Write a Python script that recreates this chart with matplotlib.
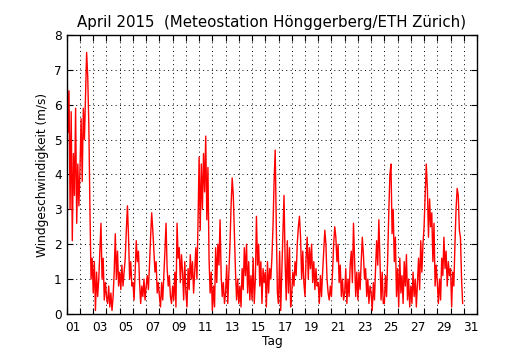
import numpy as np
import matplotlib.pyplot as plt

tage = {
    1: [7.9, 5.2, 6.4, 3.0, 5.8, 2.1, 4.6, 3.4, 5.9, 2.6, 4.3, 3.1],
    2: [4.2, 5.6, 3.8, 5.9, 5.0, 6.3, 7.5, 6.8, 5.4, 3.0, 1.0, 1.6],
    3: [0.6, 1.5, 0.1, 1.2, 0.5, 1.0, 1.8, 2.6, 1.0, 1.6, 0.4, 0.9],
    4: [0.5, 0.3, 0.8, 0.2, 0.6, 0.1, 0.5, 1.2, 2.3, 1.0, 1.8, 0.8],
    5: [1.2, 0.7, 1.4, 0.8, 1.2, 1.6, 2.4, 3.1, 2.2, 1.0, 1.5, 0.8],
    6: [0.9, 0.4, 1.2, 2.1, 1.5, 1.8, 0.9, 0.3, 0.8, 0.5, 1.0, 0.4],
    7: [0.8, 1.1, 0.7, 1.4, 2.2, 2.9, 2.4, 1.8, 1.2, 1.5, 0.6, 0.9],
    8: [0.5, 0.2, 0.9, 0.4, 1.1, 1.8, 2.6, 1.3, 0.8, 1.1, 0.5, 0.3],
    9: [0.8, 0.4, 1.2, 0.2, 2.6, 1.6, 1.9, 0.9, 1.7, 1.2, 0.4, 1.5],
    10: [0.6, 0.2, 1.3, 0.7, 1.7, 1.0, 1.5, 0.6, 1.2, 1.9, 1.0, 2.6],
    11: [4.5, 2.4, 4.3, 3.0, 4.6, 3.5, 5.1, 2.7, 4.2, 1.6, 0.6, 1.2],
    12: [0.1, 0.8, 0.2, 1.9, 0.9, 2.0, 1.4, 2.7, 1.1, 0.5, 0.9, 0.3],
    13: [0.6, 1.4, 0.3, 1.2, 2.0, 3.1, 3.9, 3.4, 2.3, 1.2, 0.4, 1.0],
    14: [0.3, 0.8, 0.2, 1.3, 0.7, 1.9, 1.1, 2.0, 0.6, 1.5, 0.4, 1.1],
    15: [0.4, 1.6, 0.3, 1.0, 2.8, 1.4, 2.0, 0.8, 1.5, 0.3, 1.3, 0.9],
    16: [1.2, 0.2, 1.5, 0.6, 1.3, 1.0, 1.6, 2.5, 3.8, 4.7, 2.5, 0.6],
    17: [0.3, 1.8, 0.1, 1.2, 2.2, 3.4, 1.5, 0.4, 2.1, 0.6, 1.9, 0.2],
    18: [0.6, 1.2, 0.8, 1.5, 1.1, 2.0, 2.5, 2.8, 2.2, 1.0, 1.8, 0.9],
    19: [0.5, 1.6, 2.2, 1.0, 1.9, 1.3, 2.0, 0.9, 1.5, 0.7, 1.3, 0.8],
    20: [0.9, 0.3, 1.1, 0.5, 1.2, 1.8, 2.4, 2.0, 1.0, 0.6, 0.4, 0.8],
    21: [0.5, 1.2, 2.0, 2.5, 2.2, 1.5, 2.0, 0.9, 1.4, 0.5, 1.0, 0.4],
    22: [0.6, 1.3, 0.3, 1.0, 0.5, 1.4, 1.8, 0.9, 2.6, 1.5, 0.5, 1.2],
    23: [0.4, 1.2, 0.7, 1.5, 2.2, 1.7, 1.0, 1.3, 0.5, 1.0, 0.3, 0.8],
    24: [0.6, 0.1, 0.9, 0.4, 1.3, 2.1, 1.4, 2.7, 1.5, 0.4, 1.2, 0.3],
    25: [0.3, 1.1, 0.5, 1.6, 2.9, 4.0, 4.3, 2.3, 3.0, 1.5, 2.2, 0.5],
    26: [1.3, 0.2, 1.6, 0.6, 1.1, 0.3, 1.5, 0.8, 1.7, 0.4, 1.0, 0.2],
    27: [0.8, 0.3, 1.2, 0.5, 1.0, 0.2, 0.9, 1.6, 0.7, 2.1, 1.2, 2.0],
    28: [2.5, 3.4, 4.3, 3.6, 2.2, 3.3, 2.5, 2.9, 1.5, 2.6, 0.8, 1.4],
    29: [0.9, 0.3, 1.0, 0.4, 1.6, 1.1, 2.2, 1.3, 1.8, 0.8, 1.5, 1.1],
    30: [1.3, 0.2, 1.2, 0.8, 2.0, 3.0, 3.6, 3.4, 2.4, 2.2, 1.0, 0.3],
}
stunden = list(range(0, 24, 2))

zeit = []
wind = []
for tag, werte in tage.items():
    for h, v in zip(stunden, werte):
        zeit.append(tag + h / 24.0)
        wind.append(v)

fig = plt.figure(figsize=(5.3, 3.5), dpi=100)
ax = fig.add_axes([0.126, 0.103, 0.774, 0.797])
ax.plot(zeit, wind, color='red', lw=1.0)

ax.set_xlim(1, 32)
ax.set_ylim(0, 8)
ax.set_xticks(range(1, 33))
ax.set_xticklabels([])
ax.set_xticks([d + 0.5 for d in range(1, 32, 2)], minor=True)
ax.set_xticklabels(['%02d' % d for d in range(1, 32, 2)], minor=True, fontsize=8.7)
ax.tick_params(axis='x', which='minor', length=0, pad=5)
ax.tick_params(axis='both', which='major', direction='in', length=4,
               top=True, right=True, labelsize=8.7)
ax.set_yticks(range(0, 9))
ax.grid(True, which='major', color='black', linestyle=(0, (1, 3.5)), linewidth=0.7)
for s in ax.spines.values():
    s.set_linewidth(1.0)

ax.set_xlabel('Tag', fontsize=8.7, labelpad=1)
ax.set_ylabel('Windgeschwindigkeit (m/s)', fontsize=8.7)
ax.set_title('April 2015  (Meteostation Hönggerberg/ETH Zürich)', fontsize=10.8)

fig.savefig('out.png', dpi=100)
